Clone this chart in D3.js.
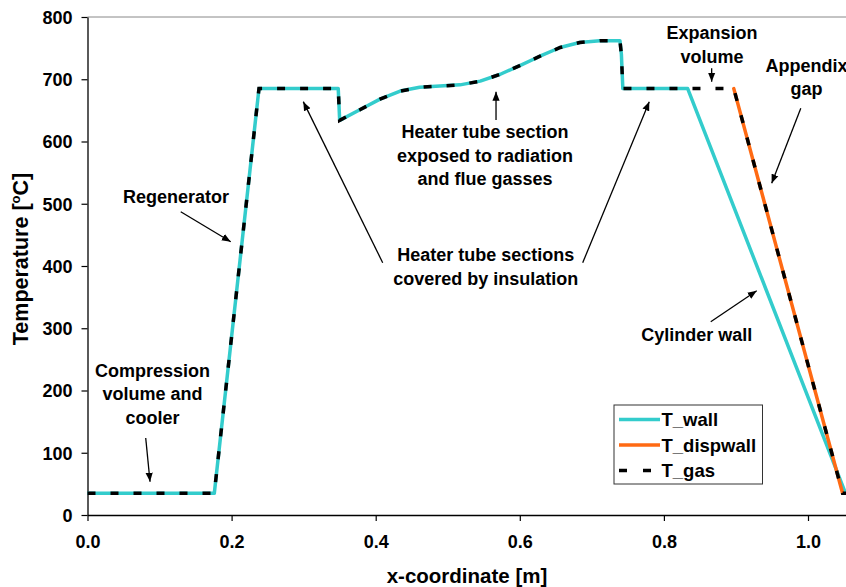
<!DOCTYPE html>
<html>
<head>
<meta charset="utf-8">
<script src="https://cdn.jsdelivr.net/npm/d3@7"></script>
<style>
  body { margin: 0; background: #fff; }
  svg { display: block; font-family: "Liberation Sans", Arial, sans-serif; font-weight: bold; }
</style>
</head>
<body>
<svg id="chart" width="846" height="587"></svg>
<script>
// Temperature profile along the engine
const xWall = [0, 0.176, 0.238, 0.348, 0.350, 0.378, 0.406, 0.434, 0.461, 0.489, 0.517, 0.545, 0.573, 0.600, 0.628, 0.656, 0.683, 0.711, 0.739, 0.741, 0.743, 0.833, 1.052];
const tWall = [35, 35, 685, 685, 634, 651, 668, 681, 687, 689, 691, 697, 708, 722, 737, 751, 759, 762, 762, 740, 685, 685, 35];

const xDisp = [0.897, 1.048];
const tDisp = [685, 35];

const xGas = [0, 0.176, 0.238, 0.348, 0.350, 0.378, 0.406, 0.434, 0.461, 0.489, 0.517, 0.545, 0.573, 0.600, 0.628, 0.656, 0.683, 0.711, 0.739, 0.741, 0.743, 0.833, 0.897, 1.048, 1.06];
const tGas = [35, 35, 685, 685, 634, 651, 668, 681, 687, 689, 691, 697, 708, 722, 737, 751, 759, 762, 762, 740, 685, 685, 685, 35, 35];

const xTicks = [0, 0.2, 0.4, 0.6, 0.8, 1.0];
const yTicks = [0, 100, 200, 300, 400, 500, 600, 700, 800];

const seriesNames = ["T_wall", "T_dispwall", "T_gas"];

// annotation text (first baseline anchor in data units) and arrows (data units)
const notes = [
  { lines: ["Compression", "volume and", "cooler"], x: 0.0902, y: 221.7 },
  { lines: ["Regenerator"], x: 0.1228, y: 501 },
  { lines: ["Heater tube section", "exposed to radiation", "and flue gasses"], x: 0.5516, y: 605.6 },
  { lines: ["Heater tube sections", "covered by insulation"], x: 0.5528, y: 408 },
  { lines: ["Expansion", "volume"], x: 0.8668, y: 764 },
  { lines: ["Appendix", "gap"], x: 0.998, y: 712 },
  { lines: ["Cylinder wall"], x: 0.8455, y: 280 }
];
const arrows = [
  [0.0808, 123.7, 0.0868, 53.5],
  [0.1294, 487.2, 0.1988, 439],
  [0.567, 634.5, 0.567, 680],
  [0.4097, 405.3, 0.2995, 664],
  [0.6873, 405.3, 0.7797, 664],
  [0.8663, 717.6, 0.8663, 696],
  [0.990, 653.3, 0.9496, 532.8],
  [0.865, 310.5, 0.9288, 360.3]
];

const teal = "#33CCCC";
const orange = "#FF6A13";

const marginLeft = 87.5, plotTop = 17, plotBottom = 515;
const x = d3.scaleLinear().domain([0, 1.2]).range([marginLeft, marginLeft + 1.2 * 720.5]);
const y = d3.scaleLinear().domain([0, 800]).range([plotBottom, plotTop]);

const svg = d3.select("#chart");

// top border of the plot area
svg.append("line")
  .attr("x1", marginLeft).attr("x2", x(1.2))
  .attr("y1", plotTop).attr("y2", plotTop)
  .attr("stroke", "#888").attr("stroke-width", 1);

// axes
const gx = svg.append("g")
  .attr("transform", `translate(0,${plotBottom})`)
  .call(d3.axisBottom(x).tickValues(xTicks).tickFormat(d3.format(".1f")).tickSize(6).tickSizeOuter(0));
const gy = svg.append("g")
  .attr("transform", `translate(${marginLeft},0)`)
  .call(d3.axisLeft(y).tickValues(yTicks).tickSize(6).tickSizeOuter(0));

[gx, gy].forEach(g => {
  g.select(".domain").attr("stroke", "#000").attr("stroke-width", 1.3);
  g.selectAll(".tick line").attr("stroke", "#000").attr("stroke-width", 1.2);
  g.selectAll(".tick text")
    .attr("fill", "#000")
    .attr("font-size", 18)
    .attr("font-family", "Liberation Sans, Arial, sans-serif")
    .attr("font-weight", "bold");
});
gx.selectAll(".tick text").attr("y", 33).attr("dy", 0);
gy.selectAll(".tick text").attr("x", -15).attr("dy", "0.36em");

// axis titles
svg.append("text")
  .attr("x", 467).attr("y", 583)
  .attr("text-anchor", "middle")
  .attr("font-size", 20.5)
  .text("x-coordinate [m]");

const yt = svg.append("text")
  .attr("transform", "translate(28,259) rotate(-90)")
  .attr("text-anchor", "middle")
  .attr("font-size", 21.5);
yt.append("tspan").text("Temperature [");
yt.append("tspan").attr("font-size", 13).attr("dy", -8).text("o");
yt.append("tspan").attr("dy", 8).text("C]");

// lines
const line = d3.line().x(d => x(d[0])).y(d => y(d[1]));

svg.append("path")
  .datum(d3.zip(xWall, tWall))
  .attr("fill", "none").attr("stroke", teal).attr("stroke-width", 3.5)
  .attr("stroke-linejoin", "round")
  .attr("d", line);

svg.append("path")
  .datum(d3.zip(xDisp, tDisp))
  .attr("fill", "none").attr("stroke", orange).attr("stroke-width", 3.5)
  .attr("stroke-linecap", "round")
  .attr("d", line);

svg.append("path")
  .datum(d3.zip(xGas, tGas))
  .attr("fill", "none").attr("stroke", "#000").attr("stroke-width", 3.5)
  .attr("stroke-dasharray", "8,15")
  .attr("d", line);

// annotations
const lh = 23.5;
notes.forEach(n => {
  const t = svg.append("text")
    .attr("x", x(n.x)).attr("y", y(n.y))
    .attr("text-anchor", "middle")
    .attr("font-size", 18);
  n.lines.forEach((s, i) => {
    t.append("tspan").attr("x", x(n.x)).attr("dy", i === 0 ? 0 : lh).text(s);
  });
});

svg.append("defs").append("marker")
  .attr("id", "head")
  .attr("viewBox", "0 0 10 10")
  .attr("refX", 10).attr("refY", 5)
  .attr("markerWidth", 9).attr("markerHeight", 9)
  .attr("markerUnits", "userSpaceOnUse")
  .attr("orient", "auto")
  .append("path").attr("d", "M0,1 L10,5 L0,9 Z").attr("fill", "#000");

svg.selectAll(".arrow")
  .data(arrows)
  .join("line")
  .attr("class", "arrow")
  .attr("x1", d => x(d[0])).attr("y1", d => y(d[1]))
  .attr("x2", d => x(d[2])).attr("y2", d => y(d[3]))
  .attr("stroke", "#000").attr("stroke-width", 1.3)
  .attr("marker-end", "url(#head)");

// legend
const lg = svg.append("g").attr("transform", "translate(614,405)");
lg.append("rect")
  .attr("width", 148.5).attr("height", 79)
  .attr("fill", "#fff").attr("stroke", "#333").attr("stroke-width", 1);
const legendStyle = [
  { color: teal, dash: null },
  { color: orange, dash: null },
  { color: "#000", dash: "8,16" }
];
seriesNames.forEach((name, i) => {
  const yy = 14.5 + i * 25.5;
  lg.append("line")
    .attr("x1", 5).attr("x2", 46).attr("y1", yy).attr("y2", yy)
    .attr("stroke", legendStyle[i].color).attr("stroke-width", 3.5)
    .attr("stroke-dasharray", legendStyle[i].dash);
  lg.append("text")
    .attr("x", 47.5).attr("y", yy + 6.5)
    .attr("font-size", 18.5)
    .text(name);
});
</script>
</body>
</html>
